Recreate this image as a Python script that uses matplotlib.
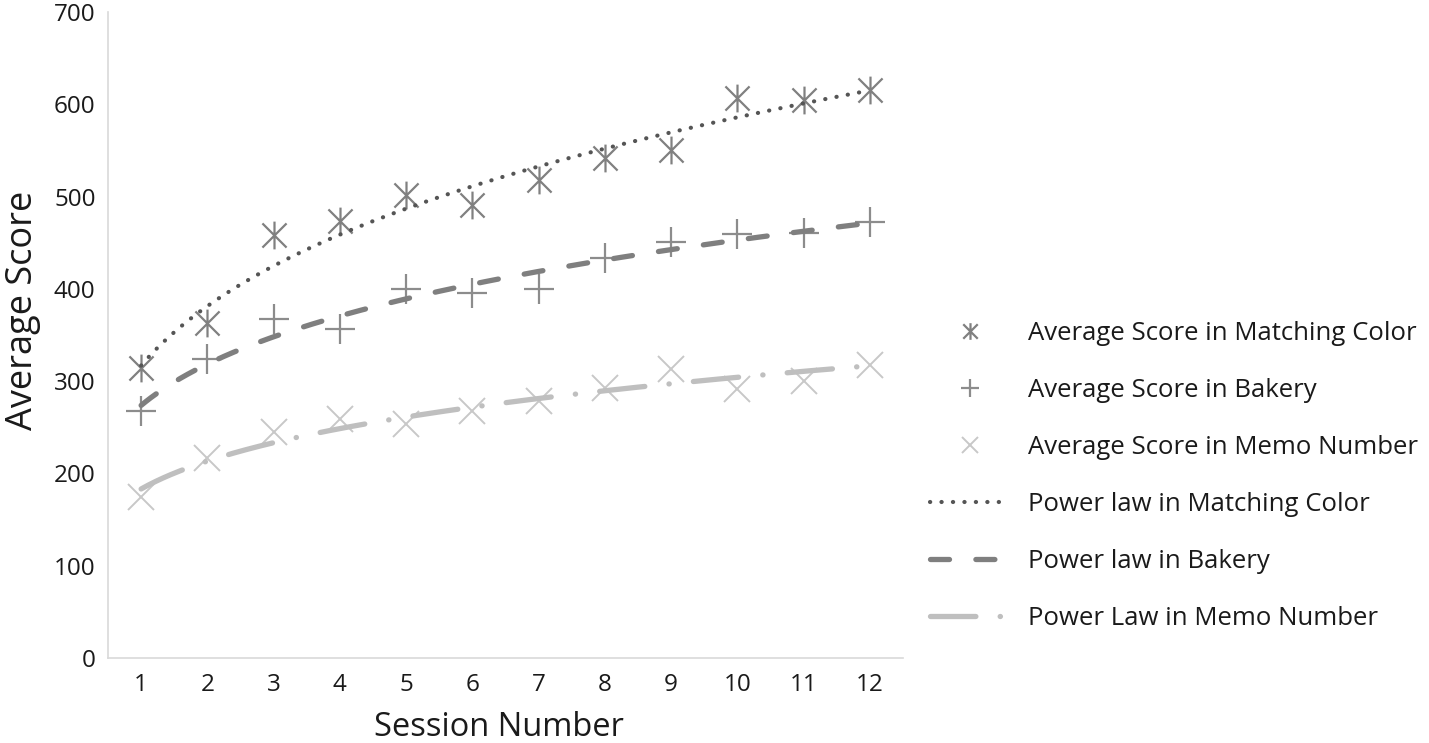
import numpy as np
import matplotlib
matplotlib.use("Agg")
import matplotlib.pyplot as plt
from matplotlib.path import Path

plt.rcParams['font.family'] = ['Open Sans', 'DejaVu Sans']

sessions = [1, 2, 3, 4, 5, 6, 7, 8, 9, 10, 11, 12]
matching = [314, 363, 458, 473, 502, 491, 518, 542, 550, 607, 605, 616]
bakery = [268, 324, 367, 356, 400, 396, 400, 433, 451, 459, 460, 472]
memo = [175, 217, 245, 259, 254, 268, 279, 293, 313, 291, 300, 318]

lbl_pts = ["Average Score in Matching Color", "Average Score in Bakery",
           "Average Score in Memo Number"]
lbl_fit = ["Power law in Matching Color", "Power law in Bakery",
           "Power Law in Memo Number"]

W, H = 1429, 743
fig = plt.figure(figsize=(W/100, H/100), dpi=100)
ax = fig.add_axes([108/W, 1-658/H, (903-108)/W, (658-12)/H])

star = Path([(-1, -1), (1, 1), (-1, 1), (1, -1), (0, -1.15), (0, 1.15)],
            [Path.MOVETO, Path.LINETO, Path.MOVETO, Path.LINETO, Path.MOVETO, Path.LINETO])

x = np.array(sessions, dtype=float)
xs = np.linspace(1, 12, 300)

def powfit(y):
    b, la = np.polyfit(np.log(x), np.log(np.array(y, float)), 1)
    return np.exp(la) * xs ** b

h1, = ax.plot(sessions, matching, linestyle='none', marker=star, markersize=20,
              markeredgecolor='#808080', markerfacecolor='none', markeredgewidth=1.6,
              label=lbl_pts[0], zorder=3)
h2, = ax.plot(sessions, bakery, linestyle='none', marker='+', markersize=22,
              markeredgecolor='#8c8c8c', markeredgewidth=1.6, label=lbl_pts[1], zorder=3)
h3, = ax.plot(sessions, memo, linestyle='none', marker='x', markersize=19,
              markeredgecolor='#c8c8c8', markeredgewidth=1.4, label=lbl_pts[2], zorder=3)

h4, = ax.plot(xs, powfit(matching), color='#555555', lw=3.0,
              linestyle=(0, (0.05, 2.7)), dash_capstyle='round', label=lbl_fit[0], zorder=4)
h5, = ax.plot(xs, powfit(bakery), color='#7f7f7f', lw=3.8,
              linestyle=(0, (3.6, 5.0)), dash_capstyle='round', label=lbl_fit[1], zorder=4)
h6, = ax.plot(xs, powfit(memo), color='#bfbfbf', lw=3.8,
              linestyle=(0, (8.6, 4.6, 0.05, 4.6)), dash_capstyle='round', label=lbl_fit[2], zorder=4)

ax.set_xlim(0.5, 12.5)
ax.set_ylim(0, 700)
ax.set_xticks(sessions)
ax.set_yticks(range(0, 701, 100))
for s in ['top', 'right']:
    ax.spines[s].set_visible(False)
for s in ['left', 'bottom']:
    ax.spines[s].set_color('#d9d9d9')
    ax.spines[s].set_linewidth(1.2)
ax.tick_params(length=0, labelsize=17.5, colors='#1a1a1a', pad=9)
ax.tick_params(axis='x', pad=11)
ax.set_xlabel("Session Number", fontsize=23.5, color='#1a1a1a')
ax.set_ylabel("Average Score", fontsize=26, color='#1a1a1a')
ax.xaxis.set_label_coords((499-108)/(903-108), -(727-658)/(658-12), transform=ax.transAxes)
ax.xaxis.label.set_va('center')
ax.yaxis.set_label_coords(-(108-23)/(903-108), (658-310)/(658-12), transform=ax.transAxes)
ax.yaxis.label.set_va('center')

leg = fig.legend(handles=[h1, h2, h3, h4, h5, h6], loc='center left',
                 bbox_to_anchor=(930/W, 1-476/H), frameon=False, fontsize=18.5,
                 labelspacing=1.24, handlelength=3.1, handletextpad=0.7,
                 borderpad=0, borderaxespad=0, markerscale=0.6)
for t in leg.get_texts():
    t.set_color('#1a1a1a')

fig.savefig("out.png", dpi=100)
